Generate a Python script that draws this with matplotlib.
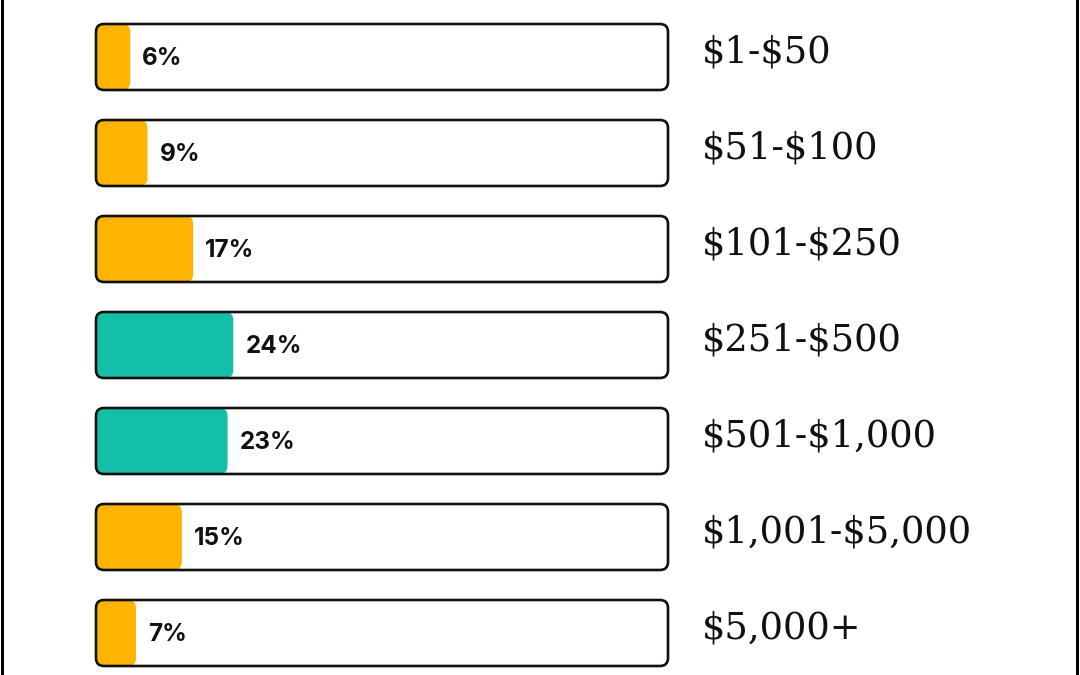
import matplotlib
matplotlib.use("Agg")
import matplotlib.pyplot as plt
from matplotlib.patches import FancyBboxPatch
from matplotlib.lines import Line2D

categories = ["$1-$50", "$51-$100", "$101-$250", "$251-$500",
              "$501-$1,000", "$1,001-$5,000", "$5,000+"]
values = [6, 9, 17, 24, 23, 15, 7]
highlight = [False, False, False, True, True, False, False]

ORANGE = "#FFB401"
TEAL = "#13BFA6"

W, H, DPI = 1080, 675, 100
fig = plt.figure(figsize=(W / DPI, H / DPI), dpi=DPI)
fig.patch.set_facecolor("white")
ax = fig.add_axes([0, 0, 1, 1])
ax.set_axis_off()

# layout (pixel based scales)
px_x = 5.72          # pixels per percent
px_y = 96.0          # pixels per row
x0_px = 96.0
y0_px = 57.0
ax.set_xlim(-x0_px / px_x, (W - x0_px) / px_x)
ax.set_ylim((H - y0_px) / px_y, -y0_px / px_y)

box_w = 100.0
box_h = 66.0 / px_y
aspect = px_x / px_y
r_box = 8.0 / px_x

for i, (cat, v, hl) in enumerate(zip(categories, values, highlight)):
    y = i
    bg = FancyBboxPatch((0, y - box_h / 2), box_w, box_h,
                        boxstyle=f"round,pad=0,rounding_size={r_box}",
                        mutation_aspect=aspect, facecolor="white",
                        edgecolor="none", zorder=1)
    ax.add_patch(bg)
    fill = FancyBboxPatch((0, y - box_h / 2), v, box_h,
                          boxstyle=f"round,pad=0,rounding_size={r_box}",
                          mutation_aspect=aspect,
                          facecolor=TEAL if hl else ORANGE,
                          edgecolor="none", zorder=2)
    ax.add_patch(fill)
    ol = FancyBboxPatch((0, y - box_h / 2), box_w, box_h,
                        boxstyle=f"round,pad=0,rounding_size={r_box}",
                        mutation_aspect=aspect, facecolor="none",
                        edgecolor="#111111", linewidth=1.9, zorder=3)
    ax.add_patch(ol)
    ax.text(v + 12.0 / px_x, y + 8.0 / px_y, f"{v}%", ha="left",
            va="baseline", fontsize=17.5, fontweight="bold", family="Inter",
            color="#111111", zorder=4, parse_math=False)
    ax.text((702 - x0_px) / px_x, y + 6.0 / px_y, cat, ha="left",
            va="baseline", fontsize=26.5, family="DejaVu Serif",
            color="#111111", zorder=4, parse_math=False)

fig.add_artist(Line2D([1.5 / W, 1.5 / W], [0, 1], color="black",
                      linewidth=3 * 72 / DPI, transform=fig.transFigure))
fig.add_artist(Line2D([1076.5 / W, 1076.5 / W], [0, 1], color="black",
                      linewidth=3 * 72 / DPI, transform=fig.transFigure))

fig.savefig("out.png", dpi=DPI, facecolor="white")
